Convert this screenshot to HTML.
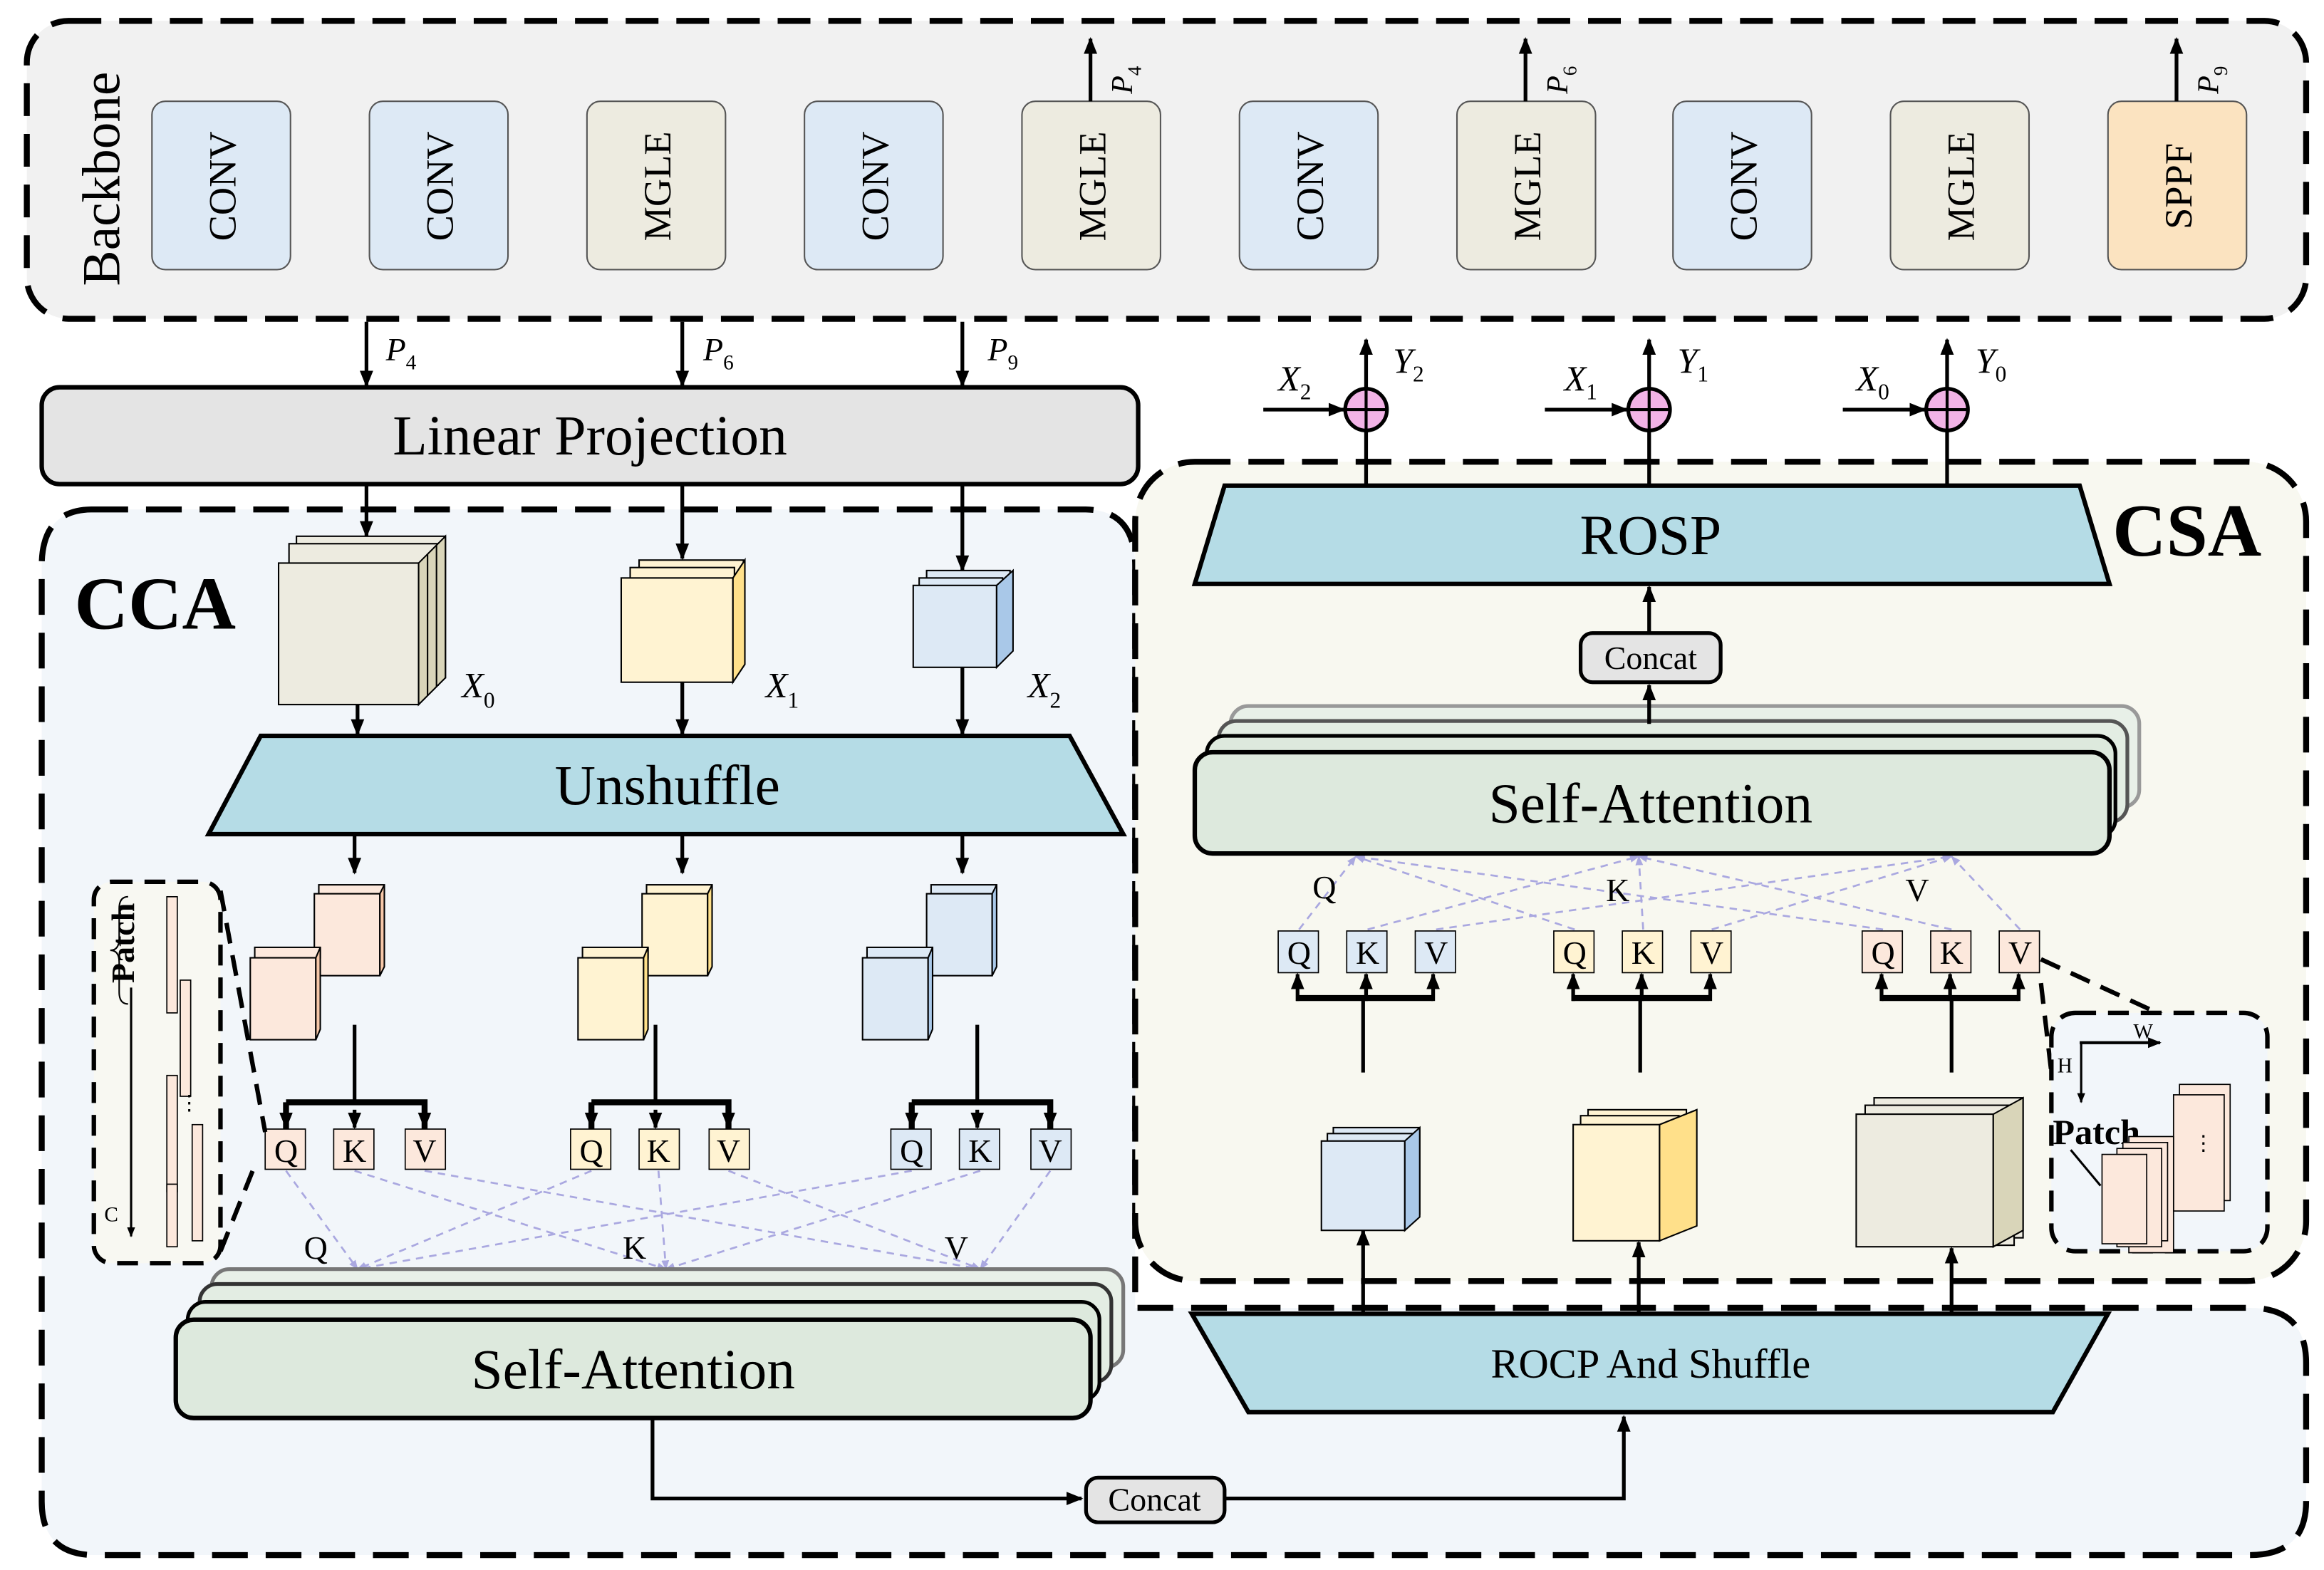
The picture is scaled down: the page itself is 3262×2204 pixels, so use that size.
<!DOCTYPE html>
<html><head><meta charset="utf-8"><style>
html,body{margin:0;padding:0;background:#fff;}
svg{display:block;}
text{font-family:"Liberation Serif",serif;fill:#000;}
</style></head><body>
<svg width="3262" height="2204" viewBox="0 0 1560 1054" xmlns="http://www.w3.org/2000/svg">
<defs>
<marker id="a" viewBox="0 0 10 10" refX="9" refY="5" markerWidth="4.5" markerHeight="4.5" orient="auto"><path d="M0,1 L10,5 L0,9 z" fill="#000"/></marker>
<marker id="p" viewBox="0 0 10 10" refX="9" refY="5" markerWidth="5" markerHeight="5" orient="auto"><path d="M0,1 L10,5 L0,9 z" fill="#aaa8e0"/></marker>
</defs>

<!-- Backbone -->
<rect x="18" y="14" width="1530" height="200" rx="28" fill="#f1f1f1" stroke="#000" stroke-width="4" stroke-dasharray="22,12"/>
<text transform="translate(80,192) rotate(-90)" font-size="36">Backbone</text>
<g stroke="#555" stroke-width="1">
<rect x="102" y="68" width="93" height="113" rx="9" fill="#dde9f5"/>
<rect x="248" y="68" width="93" height="113" rx="9" fill="#dde9f5"/>
<rect x="394" y="68" width="93" height="113" rx="9" fill="#edebe0"/>
<rect x="540" y="68" width="93" height="113" rx="9" fill="#dde9f5"/>
<rect x="686" y="68" width="93" height="113" rx="9" fill="#edebe0"/>
<rect x="832" y="68" width="93" height="113" rx="9" fill="#dde9f5"/>
<rect x="978" y="68" width="93" height="113" rx="9" fill="#edebe0"/>
<rect x="1123" y="68" width="93" height="113" rx="9" fill="#dde9f5"/>
<rect x="1269" y="68" width="93" height="113" rx="9" fill="#edebe0"/>
<rect x="1415" y="68" width="93" height="113" rx="9" fill="#fbe3c0"/>
</g>
<g font-size="26" text-anchor="middle">
<text transform="translate(158,125) rotate(-90)">CONV</text>
<text transform="translate(304,125) rotate(-90)">CONV</text>
<text transform="translate(450,125) rotate(-90)">MGLE</text>
<text transform="translate(596,125) rotate(-90)">CONV</text>
<text transform="translate(742,125) rotate(-90)">MGLE</text>
<text transform="translate(888,125) rotate(-90)">CONV</text>
<text transform="translate(1034,125) rotate(-90)">MGLE</text>
<text transform="translate(1179,125) rotate(-90)">CONV</text>
<text transform="translate(1325,125) rotate(-90)">MGLE</text>
<text transform="translate(1471,125) rotate(-90)">SPPF</text>
</g>
<g stroke="#000" stroke-width="2.5" marker-end="url(#a)">
<line x1="732" y1="68" x2="732" y2="26"/>
<line x1="1024" y1="68" x2="1024" y2="26"/>
<line x1="1461" y1="68" x2="1461" y2="26"/>
</g>
<g font-size="20" font-style="italic">
<text transform="translate(760,63) rotate(-90)">P<tspan font-size="13" font-style="normal" dy="6">4</tspan></text>
<text transform="translate(1052,63) rotate(-90)">P<tspan font-size="13" font-style="normal" dy="6">6</tspan></text>
<text transform="translate(1489,63) rotate(-90)">P<tspan font-size="13" font-style="normal" dy="6">9</tspan></text>
</g>

<g stroke="#000" stroke-width="2.5" marker-end="url(#a)">
<line x1="246" y1="216" x2="246" y2="259"/>
<line x1="458" y1="216" x2="458" y2="259"/>
<line x1="646" y1="216" x2="646" y2="259"/>
</g>
<g font-size="22" font-style="italic">
<text x="259" y="242">P<tspan font-size="14" font-style="normal" dy="6">4</tspan></text>
<text x="472" y="242">P<tspan font-size="14" font-style="normal" dy="6">6</tspan></text>
<text x="663" y="242">P<tspan font-size="14" font-style="normal" dy="6">9</tspan></text>
</g>

<path d="M62,342 H728 Q762,342 762,380 V878 H1510 Q1548,878 1548,915 V1008 Q1548,1044 1510,1044 H64 Q28,1044 28,1008 V380 Q28,342 62,342 Z" fill="#f2f6fa" stroke="#000" stroke-width="4" stroke-dasharray="24,12"/>

<rect x="28" y="260" width="736" height="65" rx="12" fill="#e4e4e4" stroke="#000" stroke-width="3"/>
<text x="396" y="305" font-size="38" text-anchor="middle">Linear Projection</text>

<rect x="762" y="310" width="786" height="550" rx="40" fill="#f8f8f0" stroke="#000" stroke-width="4" stroke-dasharray="24,12"/>

<text x="50" y="422" font-size="50" font-weight="bold">CCA</text>
<text x="1418" y="373" font-size="50" font-weight="bold">CSA</text>

<g stroke="#000" stroke-width="2.5" marker-end="url(#a)">
<line x1="246" y1="325" x2="246" y2="360"/>
<line x1="458" y1="325" x2="458" y2="375"/>
<line x1="646" y1="325" x2="646" y2="383"/>
</g>

<g stroke="#000" stroke-width="1">
<rect x="199" y="360" width="100" height="95" fill="#edebe0"/>
<rect x="194" y="365" width="100" height="95" fill="#edebe0"/>
<rect x="187" y="378" width="94" height="95" fill="#edebe0"/>
<polygon points="281,378 299,360 299,455 281,473" fill="#d9d5b9"/>
<line x1="287" y1="372" x2="287" y2="467"/><line x1="293" y1="366" x2="293" y2="461"/>

<rect x="429" y="376" width="70" height="70" fill="#fff3d2"/>
<rect x="423" y="381" width="70" height="70" fill="#fff3d2"/>
<rect x="417" y="388" width="75" height="70" fill="#fff3d2"/>
<polygon points="492,388 500,376 500,446 492,458" fill="#ffe08a"/>

<rect x="622" y="383" width="56" height="54" fill="#dde9f5"/>
<rect x="617" y="388" width="56" height="54" fill="#dde9f5"/>
<rect x="613" y="393" width="56" height="55" fill="#dde9f5"/>
<polygon points="669,393 680,383 680,437 669,448" fill="#a9c8e8"/>
</g>
<g font-size="24" font-style="italic">
<text x="310" y="468">X<tspan font-size="15" font-style="normal" dy="7">0</tspan></text>
<text x="514" y="468">X<tspan font-size="15" font-style="normal" dy="7">1</tspan></text>
<text x="690" y="468">X<tspan font-size="15" font-style="normal" dy="7">2</tspan></text>
</g>
<g stroke="#000" stroke-width="2.5" marker-end="url(#a)">
<line x1="240" y1="473" x2="240" y2="493"/>
<line x1="458" y1="458" x2="458" y2="493"/>
<line x1="646" y1="448" x2="646" y2="493"/>
</g>

<polygon points="175,494 718,494 754,560 140,560" fill="#b5dce6" stroke="#000" stroke-width="3"/>
<text x="448" y="540" font-size="38" text-anchor="middle">Unshuffle</text>
<g stroke="#000" stroke-width="2.5" marker-end="url(#a)">
<line x1="238" y1="561" x2="238" y2="586"/>
<line x1="458" y1="561" x2="458" y2="586"/>
<line x1="646" y1="561" x2="646" y2="586"/>
</g>

<g stroke="#000" stroke-width="1">
<g fill="#fce8dc"><rect x="214" y="594" width="44" height="7"/><rect x="211" y="600" width="44" height="55"/><polygon points="255,600 258,594 258,649 255,655" fill="#f6c7a8"/>
<rect x="171" y="636" width="44" height="7"/><rect x="168" y="643" width="44" height="55" /><polygon points="212,643 215,636 215,691 212,698" fill="#f6c7a8"/></g>
<g fill="#fff3d2"><rect x="434" y="594" width="44" height="7"/><rect x="431" y="600" width="44" height="55"/><polygon points="475,600 478,594 478,649 475,655" fill="#ffe08a"/>
<rect x="391" y="636" width="44" height="7"/><rect x="388" y="643" width="44" height="55"/><polygon points="432,643 435,636 435,691 432,698" fill="#ffe08a"/></g>
<g fill="#dde9f5"><rect x="625" y="594" width="44" height="7"/><rect x="622" y="600" width="44" height="55"/><polygon points="666,600 669,594 669,649 666,655" fill="#a9c8e8"/>
<rect x="582" y="636" width="44" height="7"/><rect x="579" y="643" width="44" height="55"/><polygon points="623,643 626,636 626,691 623,698" fill="#a9c8e8"/></g>
</g>

<g stroke="#000" stroke-width="2.5" fill="none">
<line x1="238" y1="688" x2="238" y2="740"/><path d="M192,740 V760 M192,740 H285 V760" stroke-width="4"/>
<line x1="440" y1="688" x2="440" y2="740"/><path d="M397,740 V760 M397,740 H489 V760" stroke-width="4"/>
<line x1="656" y1="688" x2="656" y2="740"/><path d="M612,740 V760 M612,740 H705 V760" stroke-width="4"/>
</g>
<g stroke="#000" stroke-width="2.5" marker-end="url(#a)">
<line x1="192" y1="745" x2="192" y2="757"/><line x1="238" y1="745" x2="238" y2="757"/><line x1="285" y1="745" x2="285" y2="757"/>
<line x1="397" y1="745" x2="397" y2="757"/><line x1="440" y1="745" x2="440" y2="757"/><line x1="489" y1="745" x2="489" y2="757"/>
<line x1="612" y1="745" x2="612" y2="757"/><line x1="656" y1="745" x2="656" y2="757"/><line x1="705" y1="745" x2="705" y2="757"/>
</g>
<g stroke="#000" stroke-width="0.8">
<rect x="178" y="758" width="27" height="27" fill="#fce8dc"/><rect x="224" y="758" width="27" height="27" fill="#fce8dc"/><rect x="272" y="758" width="27" height="27" fill="#fce8dc"/>
<rect x="383" y="758" width="27" height="27" fill="#fff3d2"/><rect x="429" y="758" width="27" height="27" fill="#fff3d2"/><rect x="476" y="758" width="27" height="27" fill="#fff3d2"/>
<rect x="598" y="758" width="27" height="27" fill="#dde9f5"/><rect x="644" y="758" width="27" height="27" fill="#dde9f5"/><rect x="692" y="758" width="27" height="27" fill="#dde9f5"/>
</g>
<g font-size="22" text-anchor="middle">
<text x="192" y="780">Q</text><text x="238" y="780">K</text><text x="285" y="780">V</text>
<text x="397" y="780">Q</text><text x="442" y="780">K</text><text x="489" y="780">V</text>
<text x="612" y="780">Q</text><text x="658" y="780">K</text><text x="705" y="780">V</text>
</g>
<g stroke="#aaa8e0" stroke-width="1.3" stroke-dasharray="5,4" marker-end="url(#p)">
<line x1="192" y1="786" x2="240" y2="852"/><line x1="397" y1="786" x2="240" y2="852"/><line x1="612" y1="786" x2="240" y2="852"/>
<line x1="238" y1="786" x2="447" y2="852"/><line x1="442" y1="786" x2="447" y2="852"/><line x1="658" y1="786" x2="447" y2="852"/>
<line x1="285" y1="786" x2="658" y2="852"/><line x1="489" y1="786" x2="658" y2="852"/><line x1="705" y1="786" x2="658" y2="852"/>
</g>
<g font-size="22"><text x="204" y="845">Q</text><text x="418" y="845">K</text><text x="634" y="845">V</text></g>

<rect x="63" y="592" width="85" height="256" rx="12" fill="#f8f8f2" stroke="#000" stroke-width="3" stroke-dasharray="14,8"/>
<g stroke="#000" stroke-width="3" stroke-dasharray="14,8"><line x1="148" y1="598" x2="178" y2="760"/><line x1="148" y1="840" x2="170" y2="785"/></g>
<text transform="translate(90,660) rotate(-90)" font-size="22" font-weight="bold">Patch</text>
<path d="M86,602 q-6,0 -6,8 v20 q0,8 -6,8 q6,0 6,8 v20 q0,8 6,8" fill="none" stroke="#000" stroke-width="1"/>
<line x1="88" y1="663" x2="88" y2="830" stroke="#000" stroke-width="1.5" marker-end="url(#a)"/>
<text x="70" y="820" font-size="14">C</text>
<g fill="#fce8dc" stroke="#000" stroke-width="0.8">
<rect x="112" y="602" width="7" height="78"/><rect x="121" y="658" width="7" height="78"/>
<rect x="112" y="722" width="7" height="78"/>
<rect x="129" y="755" width="7" height="78"/><rect x="112" y="795" width="7" height="42"/>
</g>
<text x="120" y="745" font-size="14">⋮</text>

<g stroke-width="2.5">
<rect x="142" y="852" width="612" height="66" rx="12" fill="#e8f0e8" stroke="#777"/>
<rect x="134" y="862" width="612" height="66" rx="12" fill="#e3ede3" stroke="#333"/>
<rect x="126" y="874" width="612" height="66" rx="12" fill="#dde9dd" stroke="#000"/>
<rect x="118" y="886" width="614" height="66" rx="12" fill="#dde9dd" stroke="#000" stroke-width="3"/>
</g>
<text x="425" y="932" font-size="38" text-anchor="middle">Self-Attention</text>

<polyline points="438,952 438,1006 726,1006" fill="none" stroke="#000" stroke-width="2.5" marker-end="url(#a)"/>
<rect x="729" y="992" width="93" height="30" rx="8" fill="#e4e4e4" stroke="#000" stroke-width="2.5"/>
<text x="775" y="1014" font-size="22" text-anchor="middle">Concat</text>
<polyline points="822,1006 1090,1006 1090,951" fill="none" stroke="#000" stroke-width="2.5" marker-end="url(#a)"/>

<polygon points="800,882 1415,882 1378,948 838,948" fill="#b5dce6" stroke="#000" stroke-width="3"/>
<text x="1108" y="925" font-size="28" text-anchor="middle">ROCP And Shuffle</text>
<g stroke="#000" stroke-width="2.5" marker-end="url(#a)">
<line x1="915" y1="882" x2="915" y2="826"/>
<line x1="1100" y1="882" x2="1100" y2="834"/>
<line x1="1310" y1="882" x2="1310" y2="838"/>
</g>

<g stroke="#000" stroke-width="1">
<rect x="895" y="757" width="58" height="58" fill="#dde9f5"/><rect x="891" y="761" width="58" height="58" fill="#dde9f5"/>
<rect x="887" y="766" width="56" height="60" fill="#dde9f5"/><polygon points="943,766 953,757 953,817 943,826" fill="#a9c8e8"/>
<rect x="1066" y="745" width="66" height="78" fill="#fff3d2"/><rect x="1061" y="749" width="66" height="78" fill="#fff3d2"/>
<rect x="1056" y="755" width="58" height="78" fill="#fff3d2"/><polygon points="1114,755 1139,745 1139,823 1114,833" fill="#ffe08a"/>
<rect x="1258" y="737" width="100" height="94" fill="#edebe0"/><rect x="1252" y="742" width="100" height="94" fill="#edebe0"/>
<rect x="1246" y="748" width="92" height="89" fill="#edebe0"/><polygon points="1338,748 1358,737 1358,826 1338,837" fill="#d9d5b9"/>
</g>

<g stroke="#000" stroke-width="2.5" fill="none">
<line x1="915" y1="720" x2="915" y2="670"/><path d="M870,670 H962" stroke-width="4"/>
<line x1="1101" y1="720" x2="1101" y2="670"/><path d="M1055,670 H1147" stroke-width="4"/>
<line x1="1310" y1="720" x2="1310" y2="670"/><path d="M1263,670 H1355" stroke-width="4"/>
</g>
<g stroke="#000" stroke-width="2.5" marker-end="url(#a)">
<line x1="871" y1="672" x2="871" y2="654"/><line x1="917" y1="672" x2="917" y2="654"/><line x1="962" y1="672" x2="962" y2="654"/>
<line x1="1056" y1="672" x2="1056" y2="654"/><line x1="1102" y1="672" x2="1102" y2="654"/><line x1="1148" y1="672" x2="1148" y2="654"/>
<line x1="1263" y1="672" x2="1263" y2="654"/><line x1="1309" y1="672" x2="1309" y2="654"/><line x1="1355" y1="672" x2="1355" y2="654"/>
</g>
<g stroke="#000" stroke-width="0.8">
<rect x="858" y="625" width="27" height="28" fill="#dde9f5"/><rect x="904" y="625" width="27" height="28" fill="#dde9f5"/><rect x="950" y="625" width="27" height="28" fill="#dde9f5"/>
<rect x="1043" y="625" width="27" height="28" fill="#fff3d2"/><rect x="1089" y="625" width="27" height="28" fill="#fff3d2"/><rect x="1135" y="625" width="27" height="28" fill="#fff3d2"/>
<rect x="1250" y="625" width="27" height="28" fill="#fce8dc"/><rect x="1296" y="625" width="27" height="28" fill="#fce8dc"/><rect x="1342" y="625" width="27" height="28" fill="#fce8dc"/>
</g>
<g font-size="22" text-anchor="middle">
<text x="872" y="647">Q</text><text x="918" y="647">K</text><text x="964" y="647">V</text>
<text x="1057" y="647">Q</text><text x="1103" y="647">K</text><text x="1149" y="647">V</text>
<text x="1264" y="647">Q</text><text x="1310" y="647">K</text><text x="1356" y="647">V</text>
</g>
<g stroke="#aaa8e0" stroke-width="1.3" stroke-dasharray="5,4" marker-end="url(#p)">
<line x1="872" y1="624" x2="910" y2="575"/><line x1="1057" y1="624" x2="910" y2="575"/><line x1="1264" y1="624" x2="910" y2="575"/>
<line x1="918" y1="624" x2="1100" y2="575"/><line x1="1103" y1="624" x2="1100" y2="575"/><line x1="1310" y1="624" x2="1100" y2="575"/>
<line x1="964" y1="624" x2="1310" y2="575"/><line x1="1149" y1="624" x2="1310" y2="575"/><line x1="1356" y1="624" x2="1310" y2="575"/>
</g>
<g font-size="22"><text x="881" y="603">Q</text><text x="1078" y="605">K</text><text x="1279" y="605">V</text></g>

<g stroke-width="2.5">
<rect x="826" y="474" width="610" height="68" rx="12" fill="#e8f0e8" stroke="#999"/>
<rect x="818" y="484" width="610" height="68" rx="12" fill="#e3ede3" stroke="#555"/>
<rect x="810" y="494" width="610" height="68" rx="12" fill="#dde9dd" stroke="#000"/>
<rect x="802" y="505" width="614" height="68" rx="12" fill="#dde9dd" stroke="#000" stroke-width="3"/>
</g>
<text x="1108" y="552" font-size="38" text-anchor="middle">Self-Attention</text>
<line x1="1107" y1="486" x2="1107" y2="460" stroke="#000" stroke-width="2.5" marker-end="url(#a)"/>
<rect x="1061" y="425" width="94" height="33" rx="8" fill="#e4e4e4" stroke="#000" stroke-width="2.5"/>
<text x="1108" y="449" font-size="22" text-anchor="middle">Concat</text>
<line x1="1107" y1="425" x2="1107" y2="394" stroke="#000" stroke-width="2.5" marker-end="url(#a)"/>

<polygon points="822,326 1396,326 1416,392 802,392" fill="#b5dce6" stroke="#000" stroke-width="3"/>
<text x="1108" y="372" font-size="38" text-anchor="middle">ROSP</text>

<g stroke="#000" stroke-width="2.5">
<line x1="917" y1="326" x2="917" y2="290"/><line x1="1107" y1="326" x2="1107" y2="290"/><line x1="1307" y1="326" x2="1307" y2="290"/>
<g marker-end="url(#a)">
<line x1="917" y1="262" x2="917" y2="228"/><line x1="1107" y1="262" x2="1107" y2="228"/><line x1="1307" y1="262" x2="1307" y2="228"/>
<line x1="848" y1="275" x2="902" y2="275"/><line x1="1037" y1="275" x2="1092" y2="275"/><line x1="1237" y1="275" x2="1292" y2="275"/>
</g>
<g fill="#f2b3e6"><circle cx="917" cy="275" r="14"/><circle cx="1107" cy="275" r="14"/><circle cx="1307" cy="275" r="14"/></g>
<path d="M903,275 H931 M917,261 V289 M1093,275 H1121 M1107,261 V289 M1293,275 H1321 M1307,261 V289" stroke-width="2"/>
</g>
<g font-size="24" font-style="italic">
<text x="858" y="262">X<tspan font-size="15" font-style="normal" dy="6">2</tspan></text>
<text x="935" y="250">Y<tspan font-size="15" font-style="normal" dy="6">2</tspan></text>
<text x="1050" y="262">X<tspan font-size="15" font-style="normal" dy="6">1</tspan></text>
<text x="1126" y="250">Y<tspan font-size="15" font-style="normal" dy="6">1</tspan></text>
<text x="1246" y="262">X<tspan font-size="15" font-style="normal" dy="6">0</tspan></text>
<text x="1326" y="250">Y<tspan font-size="15" font-style="normal" dy="6">0</tspan></text>
</g>

<g stroke="#000" stroke-width="3" stroke-dasharray="14,8"><line x1="1370" y1="644" x2="1470" y2="690"/><line x1="1370" y1="660" x2="1377" y2="720"/></g>
<rect x="1377" y="680" width="145" height="160" rx="16" fill="#f2f6fa" stroke="#000" stroke-width="3" stroke-dasharray="14,8"/>
<line x1="1396" y1="700" x2="1450" y2="700" stroke="#000" stroke-width="2" marker-end="url(#a)"/>
<line x1="1397" y1="700" x2="1397" y2="740" stroke="#000" stroke-width="1.5" marker-end="url(#a)"/>
<text x="1432" y="697" font-size="14">W</text><text x="1381" y="720" font-size="14">H</text>
<text x="1378" y="768" font-size="24" font-weight="bold">Patch</text>
<line x1="1390" y1="772" x2="1410" y2="796" stroke="#000" stroke-width="1.5"/>
<g fill="#fce8dc" stroke="#000" stroke-width="0.8">
<rect x="1463" y="728" width="34" height="78"/><rect x="1459" y="735" width="34" height="78"/>
<rect x="1429" y="763" width="30" height="78"/><rect x="1425" y="767" width="30" height="66"/><rect x="1421" y="771" width="30" height="66"/>
<rect x="1411" y="775" width="30" height="60"/>
</g>
<text x="1472" y="772" font-size="14">⋮</text>
</svg>
</body></html>
